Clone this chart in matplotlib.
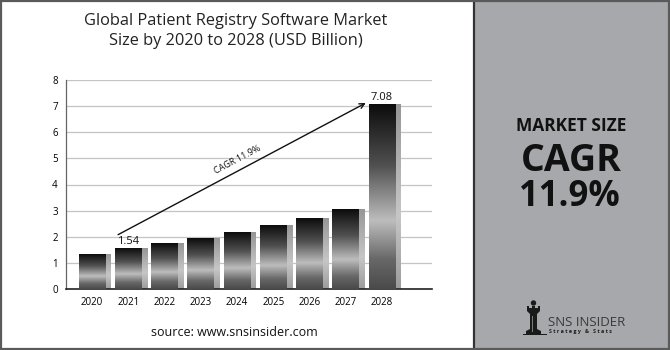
import numpy as np
import matplotlib.pyplot as plt
from matplotlib.patches import Rectangle, Polygon
from matplotlib.colors import LinearSegmentedColormap

years = ["2020", "2021", "2022", "2023", "2024", "2025", "2026", "2027", "2028"]
market_size = [1.33, 1.54, 1.74, 1.93, 2.16, 2.42, 2.71, 3.03, 7.08]
value_labels = {"2021": "1.54", "2028": "7.08"}
y_ticks = [0, 1, 2, 3, 4, 5, 6, 7, 8]
cagr_text = "CAGR 11.9%"

plt.rcParams["font.family"] = ["Open Sans", "DejaVu Sans"]

W, H = 670, 350
fig = plt.figure(figsize=(W / 100, H / 100), dpi=100)
fig.patch.set_facecolor("white")


def fx(px):
    return px / W


def fy(py):
    return 1 - py / H


# right grey panel and frame (drawn behind the axes)
fig.add_artist(Rectangle((fx(474), 0), fx(W - 474), 1, transform=fig.transFigure,
                         facecolor="#a7a8ab", edgecolor="none", zorder=-5))
fig.add_artist(plt.Line2D([fx(474), fx(474)], [0, 1], color="#333333", lw=1.6,
                          zorder=-4))
fig.add_artist(Rectangle((0.0015, 0.003), 0.997, 0.994, transform=fig.transFigure,
                         facecolor="none", edgecolor="#5a5a5a", lw=1.6, zorder=-3))

# bar chart
ax = fig.add_axes([fx(66), fy(289), fx(432 - 66), (289 - 80) / H])
x = np.arange(len(years))
bw = 0.74
sw = 0.14
xlim = (-0.72, 9.38)

cmap = LinearSegmentedColormap.from_list(
    "bar", [(0.0, "#0c0c0c"), (0.33, "#505050"), (0.63, "#bdbdbd"),
            (0.84, "#686868"), (1.0, "#4a4a4a")])
side_cmap = LinearSegmentedColormap.from_list(
    "side", [(0.0, "#969696"), (0.6, "#c6c6c6"), (1.0, "#9c9c9c")])
grad = np.linspace(0, 1, 256).reshape(-1, 1)

for xi, v in zip(x, market_size):
    ax.imshow(np.tile(grad, (1, 8)), cmap=side_cmap, aspect="auto",
              extent=(xi + bw / 2, xi + bw / 2 + sw, 0, v), zorder=2.1)
    ax.imshow(np.tile(grad, (1, 8)), cmap=cmap, aspect="auto",
              extent=(xi - bw / 2, xi + bw / 2, 0, v), zorder=3)

ax.set_xlim(*xlim)
ax.set_ylim(0, 8)
ax.set_yticks(y_ticks)
ax.set_yticklabels([str(t) for t in y_ticks], fontsize=7)
ax.set_xticks(x)
ax.set_xticklabels(years, fontsize=7)
ax.tick_params(length=0, pad=6)
ax.yaxis.grid(True, color="#c4c4c4", lw=0.9)
ax.set_axisbelow(True)
for s in ["top", "right"]:
    ax.spines[s].set_visible(False)
ax.spines["left"].set_color("#666666")
ax.spines["left"].set_linewidth(0.9)
ax.spines["bottom"].set_color("#222222")
ax.spines["bottom"].set_linewidth(1.2)

for i, yr in enumerate(years):
    if yr in value_labels:
        ax.text(x[i], market_size[i] + 0.05, value_labels[yr], ha="center",
                va="bottom", fontsize=8, color="#111111", zorder=4)

ax.annotate("", xy=(7.62, 7.17), xytext=(0.65, 2.03),
            arrowprops=dict(arrowstyle="->", color="#111111", lw=1.0,
                            mutation_scale=9), zorder=4)
ax.text(4.0, 4.95, cagr_text, rotation=28, ha="center", va="center",
        fontsize=6.5, color="#111111", rotation_mode="anchor")

# titles
fig.text(fx(236), fy(21), "Global Patient Registry Software Market", ha="center",
         va="center", fontsize=11.8, color="#222222")
fig.text(fx(236), fy(41), "Size by 2020 to 2028 (USD Billion)", ha="center",
         va="center", fontsize=11.8, color="#222222")
fig.text(fx(234), fy(332), "source: www.snsinsider.com", ha="center", va="center",
         fontsize=9, color="#111111")

# right panel text
fig.text(fx(571), fy(131), "MARKET SIZE", ha="center", va="baseline", fontsize=12.5,
         fontweight="bold", color="#111111")
fig.text(fx(571), fy(171), "CAGR", ha="center", va="baseline", fontsize=27,
         fontweight="bold", color="#111111")
fig.text(fx(569), fy(206), "11.9%", ha="center", va="baseline", fontsize=25,
         fontweight="bold", color="#111111")

# logo
lax = fig.add_axes([fx(520), fy(336), fx(30), (336 - 298) / H])
lax.set_xlim(0, 30)
lax.set_ylim(0, 38)
lax.axis("off")
lax.add_patch(Polygon([(6, 2), (6, 5), (10, 7), (10, 22), (7, 25), (7, 30), (9, 30),
                       (9, 28), (12, 28), (12, 30), (15, 30), (15, 28), (18, 28),
                       (18, 30), (20, 30), (20, 25), (17, 22), (17, 7), (21, 5),
                       (21, 2)], closed=True, facecolor="#1a1a1a", edgecolor="none"))
lax.add_patch(plt.Circle((13.5, 33), 2.0, color="#1a1a1a"))
lax.add_patch(Rectangle((11.5, 4), 1.3, 16, facecolor="#7a7a7a", edgecolor="none"))
lax.add_patch(Rectangle((3, 1), 24, 1.2, facecolor="#1a1a1a", edgecolor="none"))
fig.text(fx(548), fy(322), "SNS INSIDER", ha="left", va="center", fontsize=9.5,
         color="#3a3a3a")
fig.text(fx(549), fy(331), "S t r a t e g y   &   S t a t s", ha="left", va="center",
         fontsize=3.8, fontweight="bold", color="#1a1a1a")

fig.savefig("out.png", dpi=100)
